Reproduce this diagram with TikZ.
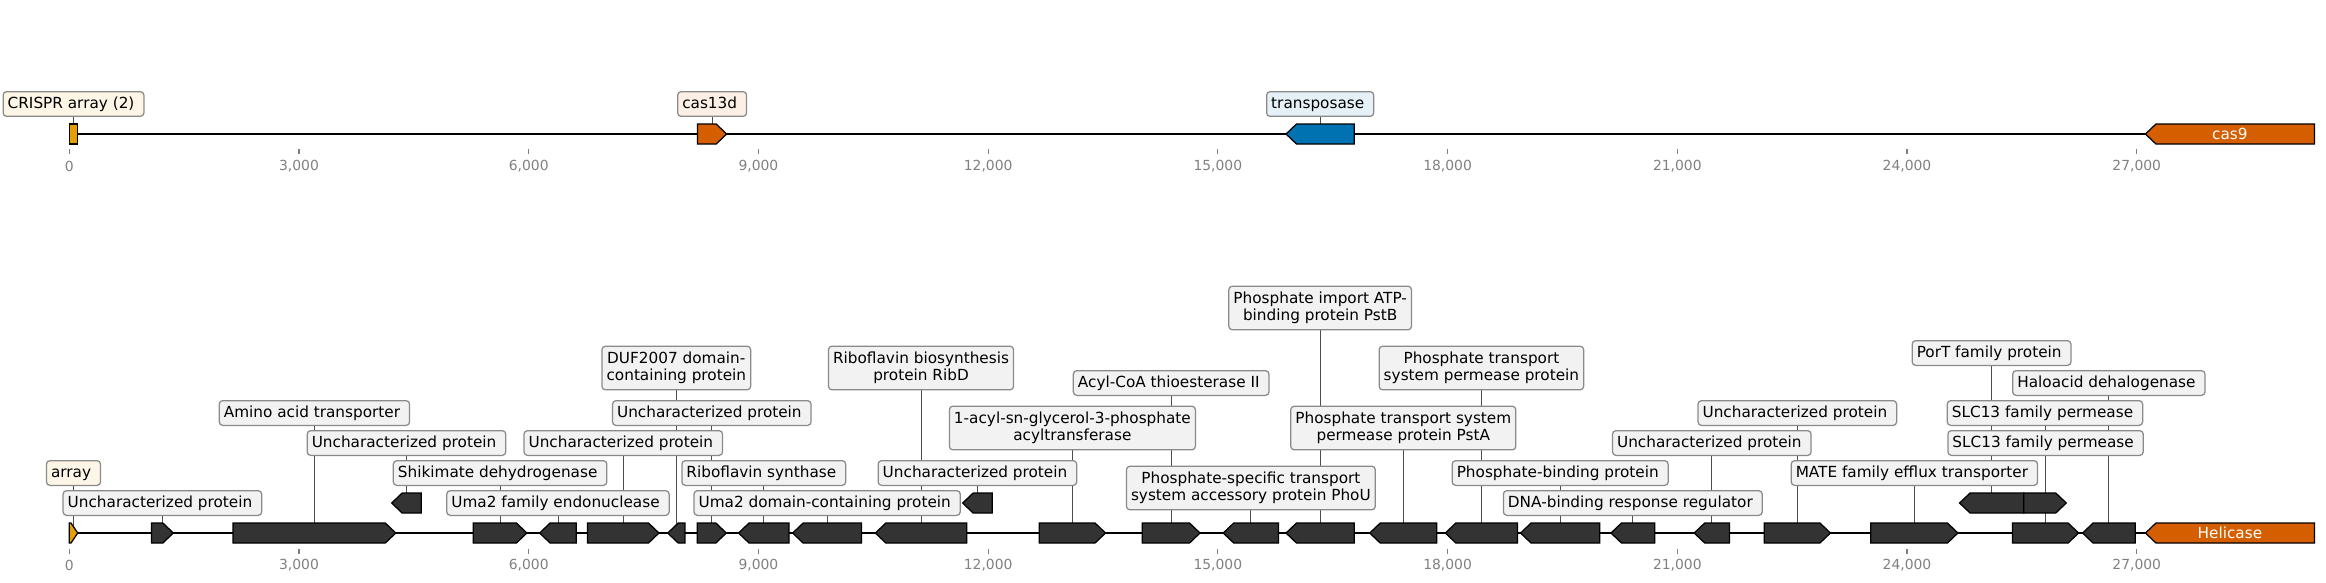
\documentclass[tikz,border=0pt]{standalone}
\usepackage{fontspec}
\setmainfont{DejaVu Sans}
\pgfdeclarelayer{bg}
\pgfsetlayers{bg,main}
\definecolor{corange}{HTML}{E69F00}
\definecolor{cverm}{HTML}{D55E00}
\definecolor{cblue}{HTML}{0072B2}
\definecolor{cdark}{HTML}{333333}
\definecolor{boxgrey}{HTML}{F2F2F2}
\definecolor{boxcream}{HTML}{FDF5E6}
\definecolor{boxblue}{HTML}{E6F1F7}
\definecolor{boxpink}{HTML}{FBEFE6}
\definecolor{edgegrey}{HTML}{8A8A8A}
\definecolor{conngrey}{HTML}{4D4D4D}
\definecolor{tickgrey}{HTML}{808080}
\newcommand\lstrut{\rule[-2.8pt]{0pt}{11.4pt}}
\newcommand\TL[2]{\lstrut #1\\\lstrut #2}
\tikzset{
  labbase/.style={draw=edgegrey, line width=0.9pt, fill=boxgrey, rounded corners=2.5pt,
    inner xsep=3.3pt},
  lab1/.style={labbase, font=\fontsize{11}{12.2}\selectfont, inner ysep=3.2pt,
    text height=8.6pt, text depth=2.8pt, execute at end node={\kern3.5pt}},
  lab2/.style={labbase, font=\fontsize{11}{11.2}\selectfont, inner ysep=3.8pt, align=center},
  conn/.style={draw=conngrey, line width=0.6pt},
  geneline/.style={draw=black, line width=0.9pt, line join=miter},
  backbone/.style={draw=black, line width=2pt},
  tickmark/.style={draw=tickgrey, line width=0.8pt},
  ticklab/.style={text=tickgrey, font=\fontsize{10}{12}\selectfont, inner sep=0pt},
  intext/.style={text=white, font=\fontsize{11}{12}\selectfont, inner sep=0pt}
}
% forward gene: name,start,end,y,color   (x in kbp, y in px)
\newcommand\fgene[5]{%
  \pgfmathsetmacro\gh{min(0.137,0.8*(#3-#2))}%
  \pgfmathsetmacro\gm{#3-\gh}%
  \pgfmathsetmacro\gc{(#2+#3)/2}%
  \draw[geneline,fill=#5] (#2,#4-10) -- (\gm,#4-10) -- (#3,#4) -- (\gm,#4+10) -- (#2,#4+10) -- cycle;
  \coordinate (#1) at (\gc,#4);}
% reverse gene
\newcommand\rgene[5]{%
  \pgfmathsetmacro\gh{min(0.137,0.8*(#3-#2))}%
  \pgfmathsetmacro\gm{#2+\gh}%
  \pgfmathsetmacro\gc{(#2+#3)/2}%
  \draw[geneline,fill=#5] (#3,#4-10) -- (\gm,#4-10) -- (#2,#4) -- (\gm,#4+10) -- (#3,#4+10) -- cycle;
  \coordinate (#1) at (\gc,#4);}
% label: labelname, genename, y, style, text
\newcommand\glab[5]{%
  \node[#4] (#1) at (#2 |- 0,#3) {#5};
  \begin{pgfonlayer}{bg}\draw[conn] (#1.center) -- (#2);\end{pgfonlayer}}
\begin{document}
\begin{tikzpicture}[x=55.13pt, y=-0.72pt]
\useasboundingbox (-0.905,0) rectangle (29.472,582);
% ---------------- axes ----------------
\draw[backbone] (0,134) -- (29.32,134);
\draw[backbone] (0,533) -- (29.32,533);
\foreach \t/\s in {0/0,3/{3,000},6/{6,000},9/{9,000},12/{12,000},15/{15,000},18/{18,000},21/{21,000},24/{24,000},27/{27,000}}{
  \draw[tickmark] (\t,149.3) -- (\t,154.3);
  \node[ticklab] at (\t,166) {\s};
  \draw[tickmark] (\t,549) -- (\t,554);
  \node[ticklab] at (\t,565) {\s};
}
% ---------------- top panel ----------------
\draw[geneline,fill=corange] (0,124) rectangle (0.110,144);
\coordinate (tcr) at (0.055,134);
\fgene{tc13}{8.205}{8.585}{134}{cverm}
\rgene{ttp}{15.890}{16.782}{134}{cblue}
\rgene{tc9}{27.114}{29.320}{134}{cverm}
\node[intext] (tc9l) at (tc9) {cas9};
\glab{Ltcr}{tcr}{104}{lab1,fill=boxcream}{CRISPR array (2)}
\glab{Ltc13}{tc13}{104}{lab1,fill=boxpink}{cas13d}
\glab{Lttp}{ttp}{104}{lab1,fill=boxblue}{transposase}
% ---------------- bottom panel ----------------
\fgene{ga}{0}{0.110}{533}{corange}
\fgene{g2}{1.073}{1.359}{533}{cdark}
\fgene{g3}{2.138}{4.264}{533}{cdark}
\rgene{e1}{4.210}{4.597}{503}{cdark}
\fgene{g4}{5.276}{5.976}{533}{cdark}
\rgene{g5}{6.142}{6.622}{533}{cdark}
\fgene{g6}{6.769}{7.701}{533}{cdark}
\rgene{g7}{7.815}{8.040}{533}{cdark}
\fgene{g8}{8.201}{8.581}{533}{cdark}
\rgene{g9}{8.740}{9.400}{533}{cdark}
\rgene{g10}{9.447}{10.347}{533}{cdark}
\rgene{g11}{10.527}{11.720}{533}{cdark}
\rgene{e2}{11.667}{12.053}{503}{cdark}
\fgene{g12}{12.667}{13.533}{533}{cdark}
\fgene{g13}{14.013}{14.767}{533}{cdark}
\rgene{g14}{15.070}{15.792}{533}{cdark}
\rgene{g15}{15.890}{16.782}{533}{cdark}
\rgene{g16}{16.983}{17.860}{533}{cdark}
\rgene{g17}{17.971}{18.913}{533}{cdark}
\rgene{g18}{18.953}{19.988}{533}{cdark}
\rgene{g19}{20.134}{20.704}{533}{cdark}
\rgene{g20}{21.221}{21.680}{533}{cdark}
\fgene{g21}{22.135}{23.000}{533}{cdark}
\fgene{g22}{23.527}{24.665}{533}{cdark}
\rgene{e3}{24.686}{25.523}{503}{cdark}
\fgene{e4}{25.523}{26.080}{503}{cdark}
\fgene{g23}{25.378}{26.241}{533}{cdark}
\rgene{g24}{26.293}{26.979}{533}{cdark}
\rgene{gh}{27.114}{29.320}{533}{cverm}
\node[intext] (ghl) at (gh) {Helicase};
\glab{La}{ga}{473}{lab1,fill=boxcream}{array}
\glab{L2}{g2}{503}{lab1}{Uncharacterized protein}
\glab{L3}{g3}{413}{lab1}{Amino acid transporter}
\glab{LE1}{e1}{443}{lab1}{Uncharacterized protein}
\glab{L4}{g4}{473}{lab1}{Shikimate dehydrogenase}
\glab{L5}{g5}{503}{lab1}{Uma2 family endonuclease}
\glab{L6}{g6}{443}{lab1}{Uncharacterized protein}
\glab{L7}{g7}{368}{lab2}{\TL{DUF2007 domain-}{containing protein}}
\glab{L8}{g8}{413}{lab1}{Uncharacterized protein}
\glab{L9}{g9}{473}{lab1}{Riboflavin synthase}
\glab{L10}{g10}{503}{lab1}{Uma2 domain-containing protein}
\glab{L11}{g11}{368}{lab2}{\TL{Riboflavin biosynthesis}{protein RibD}}
\glab{LE2}{e2}{473}{lab1}{Uncharacterized protein}
\glab{L12}{g12}{428}{lab2}{\TL{1-acyl-sn-glycerol-3-phosphate}{acyltransferase}}
\glab{L13}{g13}{383}{lab1}{Acyl-CoA thioesterase II}
\glab{L14}{g14}{488}{lab2}{\TL{Phosphate-specific transport}{system accessory protein PhoU}}
\glab{L15}{g15}{308}{lab2}{\TL{Phosphate import ATP-}{binding protein PstB}}
\glab{L16}{g16}{428}{lab2}{\TL{Phosphate transport system}{permease protein PstA}}
\glab{L17}{g17}{368}{lab2}{\TL{Phosphate transport}{system permease protein}}
\glab{L18}{g18}{473}{lab1}{Phosphate-binding protein}
\glab{L19}{g19}{503}{lab1}{DNA-binding response regulator}
\glab{L20}{g20}{443}{lab1}{Uncharacterized protein}
\glab{L21}{g21}{413}{lab1}{Uncharacterized protein}
\glab{L22}{g22}{473}{lab1}{MATE family efflux transporter}
\glab{LE3}{e3}{353}{lab1}{PorT family protein}
\glab{LE4}{e4}{413}{lab1}{SLC13 family permease}
\glab{L23}{g23}{443}{lab1}{SLC13 family permease}
\glab{L24}{g24}{383}{lab1}{Haloacid dehalogenase}
\end{tikzpicture}
\end{document}
